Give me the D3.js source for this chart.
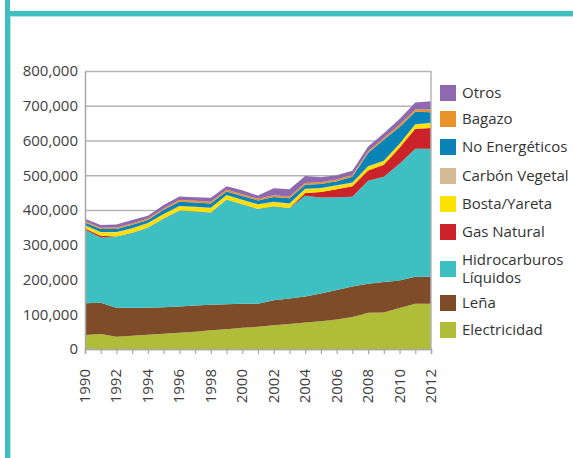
<!DOCTYPE html>
<html>
<head>
<meta charset="utf-8">
<script src="https://cdn.jsdelivr.net/npm/d3@7"></script>
<style>
  body { margin: 0; background: #fff; }
  svg { display: block; font-family: "Open Sans", sans-serif; }
</style>
</head>
<body>
<div id="chart"></div>
<script>
// --- Data (thousands) ---
const years = d3.range(1990, 2013);
const electricidad = [40, 43, 35, 38, 41, 44, 47, 50, 54, 57, 61, 64, 68, 72, 76, 80, 85, 92, 104, 105, 118, 130, 130];
const lena = [92, 90, 84, 81, 78, 76, 75, 75, 73, 72, 69, 66, 72, 73, 75, 80, 85, 88, 84, 88, 79, 78, 78];
const hidrocarburos = [211, 188, 204, 215, 230, 255, 276, 271, 265, 301, 286, 273, 270, 260, 290, 276, 267, 258, 296, 303, 336, 368, 368];
const gasNatural = [4, 5, 0.5, 0.5, 0.5, 0.5, 0.5, 0.5, 0.5, 0.5, 0.5, 0.5, 0.5, 1, 8, 16, 23, 30, 30, 34, 46, 58, 60];
const bosta = [8, 10, 12, 12, 12, 12, 12, 12, 13, 12, 12, 12, 12, 12, 11, 10, 10, 10, 11, 11, 11, 12, 14];
const carbon = [1, 1, 1, 1, 1, 1, 1, 1, 1, 1, 1, 1, 1, 1, 1, 1, 1, 1, 1, 1, 1, 1, 1];
const noEnergeticos = [8, 8, 9, 10, 9, 12, 12, 12, 12, 10, 11, 11, 14, 15, 12, 12, 12, 17, 38, 60, 48, 36, 30];
const bagazo = [4, 4, 4, 4, 4, 4, 5, 5, 5, 5, 5, 5, 5, 5, 5, 5, 5, 5, 5, 5, 6, 6, 8];
const otros = [7, 8, 9, 10, 8, 10, 10, 10, 12, 10, 11, 9, 20, 21, 20, 14, 12, 12, 14, 14, 17, 20, 24];

const yTicks = [0, 100000, 200000, 300000, 400000, 500000, 600000, 700000, 800000];
const xTickYears = d3.range(1990, 2013, 2);

const series = [
  { key: "Electricidad", values: electricidad, color: "#b0bd38" },
  { key: "Leña", values: lena, color: "#7e4c29" },
  { key: "Hidrocarburos Líquidos", values: hidrocarburos, color: "#3ebfc1" },
  { key: "Gas Natural", values: gasNatural, color: "#cc2229" },
  { key: "Bosta/Yareta", values: bosta, color: "#ffe100" },
  { key: "Carbón Vegetal", values: carbon, color: "#d3b994" },
  { key: "No Energéticos", values: noEnergeticos, color: "#0a84b6" },
  { key: "Bagazo", values: bagazo, color: "#e8932a" },
  { key: "Otros", values: otros, color: "#8e69af" }
];

const table = years.map((yr, i) => {
  const row = { year: yr };
  series.forEach(s => row[s.key] = s.values[i] * 1000);
  return row;
});

// --- Layout ---
const width = 573, height = 458;
const margin = { top: 71, right: 142, bottom: 109, left: 85 };
const innerWidth = width - margin.left - margin.right;
const innerHeight = height - margin.top - margin.bottom;

const svg = d3.select("#chart").append("svg")
  .attr("width", width)
  .attr("height", height);

// teal frame
const frame = "#3fbfc0";
svg.append("rect").attr("x", 5).attr("y", 0).attr("width", 5).attr("height", height).attr("fill", frame);
svg.append("rect").attr("x", 5).attr("y", 11).attr("width", width - 5).attr("height", 5).attr("fill", frame);
svg.append("line").attr("x1", 10.5).attr("x2", 10.5).attr("y1", 16).attr("y2", height)
  .attr("stroke", "#b5e4e4").attr("stroke-width", 1);
svg.append("line").attr("x1", 10).attr("x2", width).attr("y1", 16.5).attr("y2", 16.5)
  .attr("stroke", "#b5e4e4").attr("stroke-width", 1);

const g = svg.append("g").attr("transform", `translate(${margin.left},${margin.top})`);

// --- Scales ---
const xScale = d3.scaleLinear().domain([1990, 2012]).range([0, innerWidth]);
const yScale = d3.scaleLinear().domain([0, 800000]).range([innerHeight, 0]);

// --- Grid ---
g.append("g")
  .call(d3.axisLeft(yScale).tickValues(yTicks).tickSize(-innerWidth).tickFormat(""))
  .call(g => g.select(".domain").remove())
  .call(g => g.selectAll(".tick text").remove())
  .call(g => g.selectAll(".tick line").attr("stroke", "#b4b4b4").attr("stroke-width", 1.3));

// --- Areas ---
const stack = d3.stack().keys(series.map(s => s.key));
const layers = stack(table);
const area = d3.area()
  .x(d => xScale(d.data.year))
  .y0(d => yScale(d[0]))
  .y1(d => yScale(d[1]));

g.selectAll(".layer")
  .data(layers)
  .enter().append("path")
  .attr("class", "layer")
  .attr("d", area)
  .attr("fill", (d, i) => series[i].color);

// --- Axes ---
g.append("g")
  .call(d3.axisLeft(yScale).tickValues(yTicks).tickSize(0).tickPadding(7).tickFormat(d3.format(",")))
  .call(g => g.select(".domain").attr("stroke", "#a8a8a8").attr("stroke-width", 1.5))
  .call(g => g.selectAll(".tick text").attr("fill", "#404040").attr("font-size", "15px")
    .attr("font-family", "Open Sans, sans-serif"));

g.append("line")
  .attr("x1", innerWidth).attr("x2", innerWidth).attr("y1", 0).attr("y2", innerHeight)
  .attr("stroke", "#b4b4b4").attr("stroke-width", 1.5);

g.append("g")
  .attr("transform", `translate(0,${innerHeight})`)
  .call(d3.axisBottom(xScale).tickValues(years).tickSize(5).tickFormat(""))
  .call(g => g.selectAll(".tick text").remove())
  .call(g => g.select(".domain").attr("stroke", "#a8a8a8").attr("stroke-width", 1.5))
  .call(g => g.selectAll(".tick line").attr("stroke", "#a8a8a8").attr("stroke-width", 1.2));

g.append("g")
  .selectAll("text")
  .data(xTickYears)
  .enter().append("text")
  .attr("transform", d => `translate(${xScale(d) + 5},${innerHeight + 20}) rotate(-90)`)
  .attr("text-anchor", "end")
  .attr("fill", "#404040")
  .attr("font-size", "15px")
  .text(d => d);

// --- Legend ---
const legendItems = series.slice().reverse();
const legendY = [93, 119, 147, 176, 204, 232, 269, 303, 330];
const legend = svg.append("g");
legendItems.forEach((s, i) => {
  const y = legendY[i];
  legend.append("rect")
    .attr("x", 440).attr("y", y - 8).attr("width", 16).attr("height", 16)
    .attr("fill", s.color);
  const lines = s.key === "Hidrocarburos Líquidos" ? ["Hidrocarburos", "Líquidos"] : [s.key];
  lines.forEach((t, j) => {
    legend.append("text")
      .attr("x", 462)
      .attr("y", y + 5 + (lines.length > 1 ? (j - 0.5) * 18 : 0))
      .attr("fill", "#333")
      .attr("font-size", "15px")
      .text(t);
  });
});
</script>
</body>
</html>
